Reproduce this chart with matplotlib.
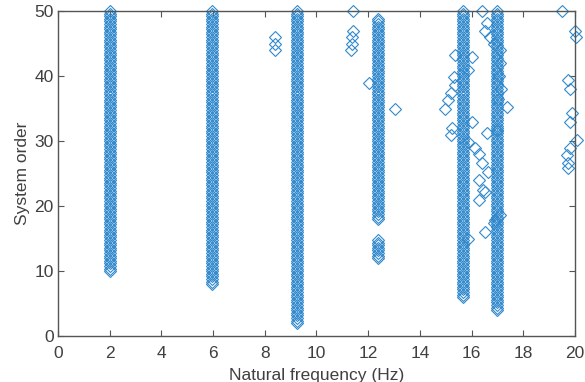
import numpy as np
import matplotlib
matplotlib.use('Agg')
import matplotlib.pyplot as plt

plt.rcParams['font.family'] = ['Liberation Sans', 'DejaVu Sans']

# stable columns: frequency, lowest order, highest order
col_freq = [2.0, 5.97, 9.25, 12.38, 12.38, 15.65, 16.97]
col_lo = [10, 8, 2, 18, 12, 6, 4]
col_hi = [50, 50, 50, 49, 15, 50, 50]
order_step = 0.4

# scattered poles (frequency, order)
sc_freq = [8.38, 8.40, 8.38,
           11.42, 11.40, 11.38, 11.36, 11.35,
           12.05, 13.05,
           14.98, 15.10, 15.20, 15.35, 15.36, 15.25, 15.20, 15.30,
           16.02, 15.85, 16.02, 15.86, 15.87,
           16.12, 16.30, 16.40, 16.64, 16.30, 16.50, 16.45, 16.30, 16.52, 16.60,
           16.39, 16.60, 16.52, 16.70, 16.88,
           17.38, 16.98, 17.10, 16.90, 16.85, 17.10, 17.05, 17.12, 17.08, 17.02,
           19.50, 20.00, 20.02, 19.73, 19.80, 19.88, 19.82, 20.07, 19.80, 19.70, 19.73, 19.73]
sc_order = [44, 45, 46,
            50, 47, 46, 45, 44,
            39, 35,
            35.0, 36.3, 37.4, 38.6, 43.2, 32.0, 31.0, 39.8,
            43.0, 41.0, 33.0, 15.0, 29.8,
            29.0, 28.0, 26.6, 25.2, 24.0, 22.2, 22.5, 21.0, 16.0, 31.2,
            50, 48.2, 47.0, 46.0, 45.0,
            35.2, 31.7, 18.6, 17.8, 17.4, 42.0, 40.0, 38.0, 44.0, 36.5,
            50.0, 47.0, 46.0, 39.4, 38.0, 34.3, 33.0, 30.2, 29.0, 27.8, 26.6, 25.8]

freq = []
order = []
for f, lo, hi in zip(col_freq, col_lo, col_hi):
    o = np.arange(lo, hi + 0.01, order_step)
    freq += [f] * len(o)
    order += list(o)
freq += sc_freq
order += sc_order

fig = plt.figure(figsize=(5.85, 3.82), dpi=100)
ax = fig.add_axes([0.099, 0.120, 0.884, 0.851])
ax.plot(freq, order, 'D', markersize=5.9, markerfacecolor='none',
        markeredgecolor='#3189cc', markeredgewidth=0.8, clip_on=False)

ax.set_xlim(0, 20)
ax.set_ylim(0, 50)
ax.set_xticks(np.arange(0, 21, 2))
ax.set_yticks(np.arange(0, 51, 10))
axcol = '#555555'
for s in ax.spines.values():
    s.set_color(axcol)
    s.set_linewidth(1.0)
ax.tick_params(direction='in', length=4, width=0.8, color=axcol,
               top=True, right=True, labelsize=12.5, labelcolor='#404040', pad=3)
ax.tick_params(axis='x', pad=7)
ax.set_xlabel('Natural frequency (Hz)', fontsize=12.5, color='#404040', labelpad=5)
ax.set_ylabel('System order', fontsize=12.5, color='#404040', labelpad=3)

fig.savefig('out.png', dpi=100)
